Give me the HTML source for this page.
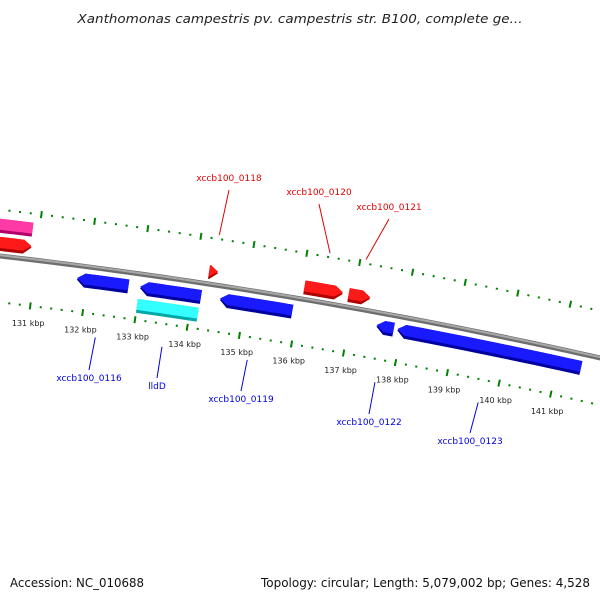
<!DOCTYPE html>
<html><head><meta charset="utf-8"><style>
html,body{margin:0;padding:0;background:#fff;}
svg{display:block;font-family:"DejaVu Sans","Liberation Sans",sans-serif;}
</style></head><body>
<svg id="map" width="600" height="600" viewBox="0 0 600 600" xmlns="http://www.w3.org/2000/svg">
<rect width="600" height="600" fill="#fff"/>
<text x="300" y="23" text-anchor="middle" font-size="12.5" font-style="italic" fill="#222" textLength="445" lengthAdjust="spacingAndGlyphs">Xanthomonas campestris pv. campestris str. B100, complete ge...</text>
<g id="ticks"></g>
<g id="backbone"></g>
<g id="genes"></g>
<g id="labels"></g>
<text x="10" y="587" font-size="12" fill="#111" textLength="134" lengthAdjust="spacingAndGlyphs">Accession: NC_010688</text>
<text x="590" y="587" font-size="12" fill="#111" text-anchor="end" textLength="329" lengthAdjust="spacingAndGlyphs">Topology: circular; Length: 5,079,002 bp; Genes: 4,528</text>
</svg>
<script>
// data
const tickKbp = [131,132,133,134,135,136,137,138,139,140,141];
const geneNames = ["pink-feature","red-left","xccb100_0118","xccb100_0120","xccb100_0121","xccb100_0116","lldD","xccb100_0119","xccb100_0117","xccb100_0122","xccb100_0123"];
const geneStart = [129.5,129.5,134.25,136.06,136.90,131.81,133.00,134.53,133.01,137.52,137.92];
const geneEnd   = [130.87,130.89,134.42,136.79,137.31,132.79,134.16,135.91,134.17,137.85,141.45];
const geneStrand= [1,1,1,1,1,-1,-1,-1,-1,-1,-1];
const geneRow   = [2,1,1,1,1,1,2,1,1,1,1];
const geneColor = ["pink","red","red","red","red","blue","cyan","blue","blue","blue","blue"];
const labelText = ["xccb100_0118","xccb100_0120","xccb100_0121","xccb100_0116","lldD","xccb100_0119","xccb100_0122","xccb100_0123"];
const labelGene = [2,3,4,5,6,7,9,10];
const labelX = [229,319,389,89,157,241,369,470];
const labelY = [181,195,210,381,389,402,425,444];

const NS="http://www.w3.org/2000/svg";
const CX=-659, CY=5952, A0=-83.04, D=0.532;
const R_TOP=5780, R_BB=5734, R_BOT=5688;
function polar(k,r){const a=(A0+(k-131)*D)*Math.PI/180;return [CX+r*Math.cos(a),CY+r*Math.sin(a)];}
function mk(tag,attrs,parent){const e=document.createElementNS(NS,tag);for(const k in attrs)e.setAttribute(k,attrs[k]);parent.appendChild(e);return e;}
const gT=document.getElementById('ticks'),gB=document.getElementById('backbone'),gG=document.getElementById('genes'),gL=document.getElementById('labels');

// tick rings
[R_TOP,R_BOT].forEach((R,ri)=>{
  for(let k=129.6;k<=142.61;k+=0.2){
    const kk=Math.round(k*10)/10;
    const major=Math.abs(kk-Math.round(kk))<0.01;
    const h=major?3.5:1;
    const p1=polar(kk,R-h),p2=polar(kk,R+h);
    const l=mk('line',{x1:p1[0],y1:p1[1],x2:p2[0],y2:p2[1],stroke:'#008000','stroke-width':2},gT);
    
    
  }
});
tickKbp.forEach(k=>{
  const p=polar(k,R_BOT-17);
  const t=mk('text',{x:p[0],y:p[1]+3,'text-anchor':'middle','font-size':8,fill:'#222'},gT);
  t.textContent=k+' kbp';
  
  
});

// backbone
function arcPts(k1,k2,r,n){const a=[];for(let i=0;i<=n;i++){a.push(polar(k1+(k2-k1)*i/n,r));}return a;}
const bbd=arcPts(129,143,R_BB,60).map(p=>p.join(',')).join(' ');
let b1=mk('polyline',{points:bbd,fill:'none',stroke:'#6e6e6e','stroke-width':5},gB);


const bbd2=arcPts(129,143,R_BB+0.8,60).map(p=>p.join(',')).join(' ');
let b2=mk('polyline',{points:bbd2,fill:'none',stroke:'#a8a8a8','stroke-width':2},gB);



// genes
const rowR={'1':[5739,5753],'2':[5757,5771],'-1':[5713,5727],'-2':[5695,5709]};
const cols={red:['#ff1a1a','#b00000'],blue:['#1a1aff','#0000a0'],cyan:['#33ffff','#00a8a8'],pink:['#ff3aa6','#b0006a']};
function shape(s,e,strand,r1,r2,arrow){
  const h=0.15, rm=(r1+r2)/2;let pts=[];
  if(!arrow){pts=arcPts(s,e,r2,12).concat(arcPts(e,s,r1,12));}
  else if(strand>0){const b=Math.max(s,e-h);pts=arcPts(s,b,r2,12);pts.push(polar(e,rm));pts=pts.concat(arcPts(b,s,r1,12));}
  else{const b=Math.min(e,s+h);pts=arcPts(b,e,r2,12).concat(arcPts(e,b,r1,12));pts.push(polar(s,rm));}
  return pts.map(p=>p[0].toFixed(2)+','+p[1].toFixed(2)).join(' ');
}
geneNames.forEach((nm,i)=>{
  const key=String(geneStrand[i]*geneRow[i]);
  const [r1,r2]=rowR[key];
  const arrow=!(geneColor[i]==='cyan'||geneColor[i]==='pink');
  const c=cols[geneColor[i]];
  const g=mk('g',{},gG);
  
  
  const p1=mk('polygon',{points:shape(geneStart[i],geneEnd[i],geneStrand[i],r1,r2,arrow),fill:c[1]},g);
  
  
  const p2=mk('polygon',{points:shape(geneStart[i],geneEnd[i],geneStrand[i],r1+3,r2,arrow),fill:c[0]},g);
  
  
});

// labels
labelText.forEach((txt,j)=>{
  const gi=labelGene[j];
  const mid=(geneStart[gi]+geneEnd[gi])/2;
  const fwd=geneStrand[gi]>0;
  const p=polar(mid,fwd?5784:5665);
  const ey=fwd?labelY[j]+9:labelY[j]-11;
  const col=fwd?'#e00000':'#0000e0';
  const l=mk('line',{x1:p[0],y1:p[1],x2:labelX[j],y2:ey,stroke:col,'stroke-width':1},gL);
  
  
  const t=mk('text',{x:labelX[j],y:labelY[j],'text-anchor':'middle','font-size':9,fill:col},gL);
  t.textContent=txt;
  
  
});
</script>
</body></html>
